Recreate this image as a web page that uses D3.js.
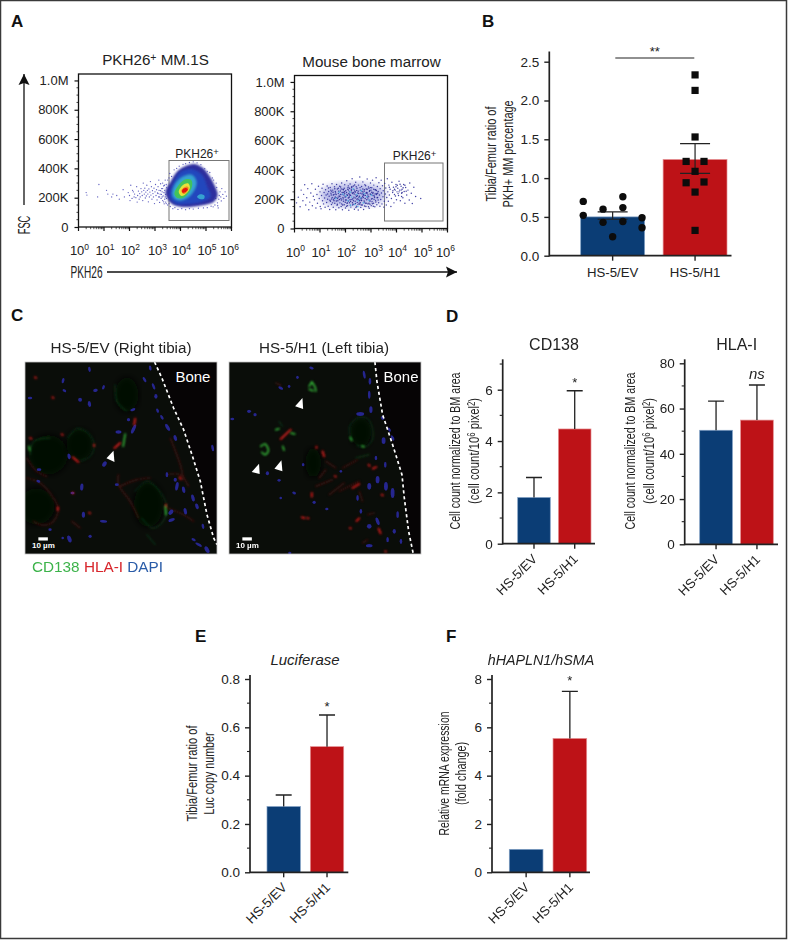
<!DOCTYPE html>
<html>
<head>
<meta charset="utf-8">
<script src="https://d3js.org/d3.v7.min.js"></script>
<style>
html, body { margin: 0; padding: 0; background: #fff; }
text { font-family: "Liberation Sans", Arial, sans-serif; fill: #222; }
.letter { font-size: 17px; font-weight: bold; fill: #111; }
</style>
</head>
<body>
<div id="chart"></div>
<script>
var groups = ["HS-5/EV", "HS-5/H1"];
var groupColors = ["#0b3d75", "#bd1217"];
var groupEdges = ["#7f9fc4", "#e58f92"];

// panel B
var ratioMeans = [0.5, 1.24];
var ratioErrLow = [0.47, 1.06];
var ratioErrHigh = [0.565, 1.445];
// [offset in half bar widths, value]
var ratioEV = [[-0.92,0.70],[-0.92,0.52],[-0.3,0.60],[-0.3,0.43],[0.32,0.76],[0.32,0.62],[0.32,0.44],[0,0.245],[0.92,0.49],[0.92,0.36]];
var ratioH1 = [[0,2.33],[0,2.13],[0,1.53],[-0.28,1.215],[0.28,1.215],[0,1.087],[-0.28,0.94],[0.28,0.95],[0,0.82],[0,0.326]];

// panels D, E, F
var cd138Means = [1.8, 4.47], cd138Tops = [2.58, 5.96];
var hlaMeans = [50.4, 54.9], hlaTops = [63.3, 70.4];
var lucMeans = [0.272, 0.52], lucTops = [0.32, 0.651];
var mrnaMeans = [0.95, 5.54], mrnaTops = [null, 7.49];

// panel A, density bands of the first plot: [log10 PKH26, FSC in K]
var bandOuter = [[3.41,241],[3.61,309],[3.87,378],[4.20,416],[4.52,430],[4.85,407],[5.11,355],[5.33,287],[5.46,218],[5.31,173],[4.92,150],[4.46,139],[4.0,139],[3.67,157],[3.48,196]];
var bandMid = [[3.58,218],[3.71,298],[4.03,378],[4.46,394],[4.85,355],[5.05,275],[5.18,207],[4.85,173],[4.26,157],[3.87,157],[3.63,184]];
var bandLight = [[3.67,230],[3.80,298],[4.13,348],[4.46,355],[4.63,309],[4.55,253],[4.26,196],[3.93,180],[3.74,196]];
var bandGreen = [[3.76,230],[3.93,287],[4.20,325],[4.42,321],[4.46,287],[4.33,234],[4.07,196],[3.84,202]];
var bandYellow = [[3.93,241],[4.10,287],[4.29,298],[4.37,271],[4.26,234],[4.04,212]];
var bandOrange = [[4.03,248],[4.20,275],[4.31,271],[4.29,248],[4.13,225]];
var bandRed = [[4.07,253],[4.20,266],[4.29,257],[4.20,239],[4.08,234]];
var bandSecond = [[4.65,207],[4.78,223],[4.94,214],[4.92,193],[4.76,191]];
var bandColors = ["#2f2f9e", "#2447bd", "#36a2d0", "#43c25c", "#e6e23a", "#f08a1e", "#e2120f"];

var mm1sDots = [[0.3,235],[0.33,218],[0.75,205],[0.8,290],[1.1,250],[1.15,225],[1.3,205],[1.35,225],[1.5,215],[1.6,190],
[1.75,255],[1.8,205],[1.95,235],[2.0,215],[2.02,180],[2.05,285],[2.1,195],[2.12,250],[2.15,240],[2.18,205],[2.2,225],[2.25,200],[2.28,275],[2.3,170],[2.32,215],
[2.35,245],[2.38,190],[2.4,228],[2.42,205],[2.45,262],[2.48,240],[2.5,215],[2.52,180],[2.54,300],[2.56,250],[2.58,225],[2.6,265],[2.62,198],[2.64,238],[2.66,212],
[2.68,285],[2.7,250],[2.72,225],[2.74,172],[2.76,260],[2.78,205],[2.8,238],[2.82,310],[2.84,218],[2.86,275],[2.88,190],[2.9,248],[2.92,228],[2.94,205],[2.96,265],
[2.98,160],[3.0,240],[3.02,290],[3.04,215],[3.06,255],[3.08,185],[3.1,232],[3.12,275],[3.14,205],[3.16,250],[3.18,168],[3.2,225],[3.22,295],[3.24,195],[3.26,262],
[3.28,240],[3.3,180],[3.32,212],[3.34,280],[3.36,158],[3.38,250],[3.4,320],[3.42,170],[3.44,290],[3.3,300],[3.15,320],[3.55,335],[3.5,150],[3.6,140],[3.7,125],
[3.9,120],[4.2,118],[4.5,122],[4.9,130],[5.2,142],[5.35,150],[5.45,165],[5.5,190],[5.55,240],[5.58,205],[5.6,178],[5.62,262],[5.66,222],[5.7,195],[5.75,240],
[5.4,300],[5.25,335],[5.05,380],[4.8,425],[4.5,445],[4.2,432],[3.85,400],[3.65,345],[5.48,130],[5.8,210],
[3.35,235],[3.28,205],[3.38,190],[3.3,262],[3.42,222],[3.22,248],[3.34,172],[3.46,268],[3.18,205],[3.25,222],[3.4,205],[3.12,228],[3.37,285],[3.44,160],[3.5,320],[3.58,365],
[3.75,390],[3.95,415],[4.1,428],[4.35,440],[4.65,438],[4.95,398],[5.15,372],[5.3,320],[5.42,270],[5.52,215],[5.46,145],[5.28,138],[5.05,132],[4.7,128],[4.35,125],[4.05,125],[3.78,132],[3.55,160],[3.45,195],[5.38,195]];

// panel A, second plot
var marrowHaze = [[1.05,255],[1.6,298],[2.4,312],[3.0,296],[3.5,268],[3.5,195],[3.0,165],[2.2,150],[1.5,158],[1.05,200]];
var marrowDots = [[0.08,175],[0.15,214],[0.22,148],[0.26,262],[0.33,190],[0.36,233],[0.4,298],[0.44,160],[0.48,210],[0.52,272],[0.56,128],[0.6,180],[0.64,242],[0.68,305],[0.7,155],[0.74,220],[0.78,196],[0.82,268],[0.84,140],[0.88,232],
[0.9,172],[0.94,288],[0.97,205],[1.0,250],[1.01,150],[1.04,135],[1.06,225],[1.08,275],[1.1,190],[1.12,302],[1.14,168],[1.16,245],[1.18,208],[1.2,145],[1.22,265],[1.24,228],[1.26,178],[1.28,290],[1.3,200],[1.32,152],
[1.34,252],[1.36,220],[1.38,130],[1.4,280],[1.41,186],[1.43,240],[1.45,164],[1.47,306],[1.48,212],[1.5,262],[1.52,145],[1.53,196],[1.55,232],[1.57,285],[1.58,172],[1.6,252],[1.62,128],[1.63,210],[1.65,300],[1.67,158],
[1.68,270],[1.7,190],[1.72,238],[1.74,142],[1.75,222],[1.77,288],[1.78,175],[1.8,256],[1.82,205],[1.83,150],[1.85,310],[1.87,232],[1.88,128],[1.9,268],[1.92,186],[1.93,246],[1.95,162],[1.97,298],[1.98,215],[2.0,140],
[2.01,258],[2.03,194],[2.05,326],[2.06,232],[2.08,156],[2.1,280],[2.11,208],[2.13,125],[2.15,250],[2.16,176],[2.18,304],[2.2,226],[2.21,146],[2.23,268],[2.25,198],[2.26,340],[2.28,238],[2.3,166],[2.31,290],[2.33,214],
[2.35,132],[2.36,256],[2.38,186],[2.4,316],[2.41,228],[2.43,152],[2.45,274],[2.46,204],[2.48,242],[2.5,126],[2.51,296],[2.53,172],[2.55,220],[2.56,352],[2.58,262],[2.6,144],[2.61,194],[2.63,286],[2.65,236],[2.66,160],
[2.68,318],[2.7,212],[2.71,130],[2.73,254],[2.75,180],[2.76,298],[2.78,226],[2.8,150],[2.81,270],[2.83,196],[2.85,338],[2.86,242],[2.88,168],[2.9,284],[2.91,216],[2.93,138],[2.95,260],[2.96,186],[2.98,310],[3.0,232],
[3.01,156],[3.03,278],[3.05,204],[3.06,330],[3.08,246],[3.1,172],[3.11,296],[3.13,222],[3.15,148],[3.16,264],[3.18,192],[3.2,346],[3.21,238],[3.23,162],[3.25,286],[3.26,212],[3.28,252],[3.3,176],[3.31,312],[3.33,228],
[3.35,152],[3.36,272],[3.38,198],[3.4,330],[3.41,242],[3.43,168],[3.45,292],[3.47,216],[3.48,258],[3.5,146],[3.52,186],[3.54,308],[3.56,236],[3.58,276],[3.6,160],[3.62,212],[3.64,340],[3.66,250],[3.68,186],[3.7,296],
[3.72,228],[3.75,268],[3.78,150],[3.8,205],[3.82,316],[3.85,245],[3.88,282],[3.9,175],[3.92,232],[3.95,262],[3.98,300],[4.0,196],[4.02,250],[4.05,275],[4.08,225],[4.1,322],[4.12,262],[4.15,190],[4.18,288],[4.2,240],
[4.22,268],[4.25,210],[4.28,300],[4.3,252],[4.33,172],[4.36,280],[4.4,228],[4.45,262],[4.5,195],[4.52,310],[4.58,240],[4.62,170],[4.68,282],[4.75,218],[4.95,205],
[1.3,235],[1.45,255],[1.55,190],[1.6,215],[1.72,275],[1.8,232],[1.85,168],[1.9,212],[1.95,275],[2.0,195],[2.04,245],[2.08,175],[2.12,262],[2.15,222],[2.2,185],[2.25,285],[2.28,160],[2.32,245],[2.38,208],[2.42,285],
[2.46,178],[2.5,255],[2.52,200],[2.56,165],[2.6,240],[2.64,208],[2.68,270],[2.72,225],[2.78,172],[2.82,245],[2.88,202],[2.92,275],[2.96,165],[3.0,262],[3.04,182],[3.08,225],[3.12,200],[3.18,265],[3.22,232],[3.28,195]];
var marrowExtra = [[2.17,233],[1.46,201],[2.73,187],[1.92,264],[2.39,171],[3.07,238],[1.61,243],[2.57,279],[2.04,152],[2.86,215],[1.33,276],[2.29,203],[3.19,181],[1.76,198],[2.62,161],[2.11,291],[1.52,229],[2.94,254],[2.41,143],[1.87,245],
[3.26,241],[2.23,258],[1.68,166],[2.79,292],[2.47,223],[1.99,179],[3.11,268],[1.39,193],[2.55,189],[2.14,211],[2.9,149],[1.81,283],[2.36,297],[3.02,201],[1.58,271],[2.69,243],[2.07,226],[1.71,214],[2.83,173],[2.27,176],
[1.94,228],[3.14,213],[2.44,260],[1.49,175],[2.67,220],[2.09,268],[2.97,236],[1.84,195],[2.34,235],[2.74,265],[1.64,187],[2.19,159],[3.05,169],[2.52,239],[1.96,251],[2.88,229],[1.42,262],[2.31,189],[2.6,207],[2.01,217],
[3.21,259],[1.73,255],[2.77,205],[2.13,237],[2.49,163],[1.89,161],[2.95,193],[2.24,282],[1.56,206],[2.65,252],[3.09,152],[2.39,249],[1.78,219],[2.85,268],[2.18,196],[1.44,228],[2.58,176],[2.98,279],[2.06,172],[2.71,232],
[1.91,202],[3.16,235],[2.33,267],[1.63,232],[2.81,241],[2.45,197],[2.12,187],[1.97,238],[2.53,213],[3.03,247],[1.51,248],[2.26,244],[2.75,154],[2.43,218],[1.83,270],[2.92,172],[2.16,275],[2.63,191],[1.69,204],[3.24,210],
[3.92,268],[4.06,238],[4.18,262],[3.98,285],[4.14,302],[4.26,278],[4.03,295],[4.22,245],[4.33,295],[3.86,258],[4.1,250],[4.38,255],[3.72,282],[3.96,222],[4.2,218]];
var marrowBright = [[1.75,248],[1.9,235],[2.02,222],[2.1,190],[2.18,248],[2.24,215],[2.3,270],[2.36,165],[2.44,232],[2.5,190],[2.58,210],[2.62,258],[2.7,175],[2.74,238],[2.84,218],[2.92,192],[3.02,228],[2.2,158],[2.48,150],[1.62,205]];

// panel C, image coordinates on a 600 unit grid
var evNuclei = [[208,34,3,7,-10],[129,68,3,7,15],[226,97,6,4,-10],[250,88,3,6,20],[180,125,5,5,0],[208,138,4,8,-10],[133,98,5,3,30],[30,120,6,3,0],[390,30,3,7,-10],[400,85,3,9,-20],[407,115,4,6,0],[373,65,3,8,-30],[412,158,3,6,-20],[425,178,3,7,-30],[442,208,4,11,-30],[465,240,4,8,-20],[340,213,4,14,25],[325,185,4,4,0],[295,222,8,4,0],[338,155,7,3,-20],[253,318,5,8,30],[147,295,4,8,-10],[57,335,6,3,0],[185,387,4,10,5],[157,405,5,3,0],[190,470,4,8,0],[250,490,10,3,5],[210,535,4,4,0],[148,543,5,10,-20],[55,370,5,3,20],[452,463,5,8,40],[454,486,9,4,-20],[495,460,4,9,-10],[470,385,4,12,10],[490,395,4,9,-10],[518,420,4,10,-15],[530,445,4,8,-20],[577,270,3,9,-10],[520,545,6,3,30],[535,560,10,3,30],[560,575,5,10,-30],[548,505,3,7,-10],[90,515,4,3,0],[128,540,3,3,0],[290,380,5,3,0],[440,350,3,7,0],[465,365,4,5,0]];
var evHoles = [[85,290,60,60],[178,260,40,48],[385,440,45,68],[320,110,36,52],[50,445,55,55]];
var evDimRed = [[[20,360],[60,375],[100,420],[115,455],[95,495],[60,500],[40,490]],[[295,350],[295,380],[330,430],[355,480]],[[300,385],[350,365],[390,360]],[[440,350],[480,350],[505,385]],[[450,240],[480,320],[490,365]],[[20,300],[50,340],[80,355]],[[440,450],[490,470],[520,490]],[[155,490],[180,510]]];
var evBrightRed = [[[283,270],[300,255]],[[345,182],[342,200]],[[158,298],[175,312]],[[207,464],[210,466]],[[478,358],[482,364]],[[113,448],[113,456]],[[222,260],[222,264]],[[125,229],[128,231]],[[97,118],[100,120]],[[157,404],[160,406]],[[437,440],[437,446]],[[45,58],[48,60]],[[30,240],[34,242]]];
var evDimGreen = [[[142,240],[170,212],[205,225],[222,262],[210,295],[180,310]],[[345,400],[380,370],[415,395],[440,450],[425,495],[395,510],[365,480]],[[285,80],[290,130],[320,160]],[[30,290],[40,250],[90,240]],[[380,530],[405,560]]];
var evBrightGreen = [[[315,228],[309,265]],[[435,445],[437,470]],[[27,265],[29,277]]];
var evBone = [[403,12],[425,60],[460,150],[490,215],[515,290],[540,370],[560,470],[580,540],[590,560]];
var evArrows = [[[280,278],[259,301],[283,312]]];

var h1Nuclei = [[257,30,6,3,20],[215,58,3,4,0],[165,90,7,3,30],[190,85,3,4,0],[70,160,5,4,0],[88,170,4,4,0],[20,183,5,3,0],[403,168,11,5,0],[415,50,3,11,-10],[432,70,3,9,0],[430,110,3,11,0],[435,155,4,9,0],[470,180,4,5,-30],[490,215,3,6,-30],[500,240,3,8,-30],[473,248,5,9,0],[450,300,3,6,0],[455,365,5,10,0],[478,320,3,8,0],[480,385,5,12,0],[500,405,5,14,0],[430,385,5,9,0],[430,505,6,6,0],[455,490,4,11,-20],[395,420,3,8,0],[405,460,3,6,0],[515,470,3,9,0],[525,550,3,7,0],[485,545,3,7,0],[505,520,4,6,0],[430,563,9,4,0],[125,346,4,5,0],[160,367,4,3,0],[232,320,3,4,0],[205,405,5,3,20],[265,433,4,4,0],[303,453,4,3,0],[165,420,3,3,0],[192,585,4,3,0],[345,340,3,3,0]];
var h1Holes = [[405,223,32,44],[262,315,25,45]];
var h1DimRed = [[[340,400],[400,370]],[[310,410],[355,375]],[[280,360],[300,335]],[[270,385],[320,365]],[[300,310],[330,330]],[[410,555],[425,545]],[[400,400],[410,430]],[[425,470],[445,465]],[[350,330],[395,305]],[[150,75],[165,82]]];
var h1BrightRed = [[[165,243],[195,215]],[[272,266],[272,270]],[[290,280],[295,295]],[[441,332],[451,327]],[[380,390],[400,378]],[[327,354],[330,356]],[[428,320],[431,324]],[[258,405],[258,416]],[[392,489],[400,481]],[[458,512],[464,526]],[[467,410],[471,412]],[[372,510],[375,511]],[[228,478],[236,480]],[[245,480],[248,481]],[[478,580],[480,581]]];
var h1DimGreen = [[[375,243],[372,205],[395,180],[425,182],[440,215],[437,250],[415,267],[392,262]],[[160,190],[170,205]],[[390,300],[430,290]]];
var h1BrightGreen = [[[250,85],[258,72]],[[258,72],[268,88],[270,100]],[[262,98],[250,94]],[[105,265],[118,258],[128,278],[118,290],[108,283]],[[171,265],[175,277]],[[195,225],[207,228]],[[373,238],[378,248]],[[408,264],[414,266]],[[160,212],[150,215]]];
var h1Bone = [[447,12],[453,70],[470,170],[500,260],[528,350],[535,420],[548,520],[562,588]];
var h1Arrows = [[[230,120],[208,145],[232,153]],[[100,317],[78,342],[102,348]],[[167,307],[146,332],[170,340]]];

var svg = d3.select("#chart").append("svg")
    .attr("width", 789)
    .attr("height", 940)
    .style("display", "block");

var defs = svg.append("defs");
defs.append("filter").attr("id", "soft").append("feGaussianBlur").attr("stdDeviation", 0.5);
defs.append("filter").attr("id", "softer").append("feGaussianBlur").attr("stdDeviation", 0.8);
defs.append("filter").attr("id", "haze").append("feGaussianBlur").attr("stdDeviation", 3);

// figure frame
svg.append("path")
    .attr("d", "M0.5,0.5H786.5V938.5H0.5Z")
    .attr("fill", "none")
    .attr("stroke", "#3a3a3a")
    .attr("stroke-width", 1.5);

function letter(t, x, y) {
    svg.append("text").attr("class", "letter").attr("x", x).attr("y", y).text(t);
}
letter("A", 11, 27);
letter("B", 482, 27);
letter("C", 11, 321);
letter("D", 446, 322);
letter("E", 195, 642);
letter("F", 446, 642);

/* ---------- A ---------- */
function flowPlot(left, top, title, titleBaseline, gate, gateLabelX, gateLabelY) {
    var w = 153, h = 153;
    var x = d3.scaleLog().domain([1, 1e6]).range([left, left + w]);
    var y = d3.scaleLinear().domain([0, 1044]).range([top + h, top]);
    var g = svg.append("g");

    g.append("rect").attr("x", left).attr("y", top).attr("width", w).attr("height", h)
        .attr("fill", "#fff").attr("stroke", "#111").attr("stroke-width", 1.3);

    var yAxis = d3.axisLeft(y).tickValues([0, 200, 400, 600, 800, 1000]).tickSize(4)
        .tickFormat(function(d) { return d == 0 ? "0" : d == 1000 ? "1.0M" : d + "K"; });
    var ya = g.append("g").attr("transform", "translate(" + left + ",0)").call(yAxis);
    ya.select(".domain").remove();
    ya.selectAll("text").attr("x", -10).style("font-size", "13px").style("fill", "#222");
    ya.selectAll("line").attr("stroke", "#111").attr("stroke-width", 1.2);
    g.append("g").selectAll("line").data(d3.range(50, 1001, 50).filter(function(d) { return d % 200; }))
        .enter().append("line")
        .attr("x1", left - 2).attr("x2", left)
        .attr("y1", function(d) { return y(d); }).attr("y2", function(d) { return y(d); })
        .attr("stroke", "#111").attr("stroke-width", 0.8);

    var minors = [];
    d3.range(0, 6).forEach(function(p) {
        d3.range(2, 10).forEach(function(m) { minors.push(m * Math.pow(10, p)); });
    });
    g.append("g").selectAll("line").data(minors).enter().append("line")
        .attr("x1", function(d) { return x(d); }).attr("x2", function(d) { return x(d); })
        .attr("y1", top + h).attr("y2", top + h + 2.2)
        .attr("stroke", "#111").attr("stroke-width", 0.7);
    var decades = d3.range(0, 7);
    g.append("g").selectAll("line").data(decades).enter().append("line")
        .attr("x1", function(d) { return x(Math.pow(10, d)); }).attr("x2", function(d) { return x(Math.pow(10, d)); })
        .attr("y1", top + h).attr("y2", top + h + 4)
        .attr("stroke", "#111").attr("stroke-width", 1.2);
    var xl = g.append("g").selectAll("text").data(decades).enter().append("text")
        .attr("x", function(d) { return x(Math.pow(10, d)) + (d == 0 ? 1 : d == 3 ? 2.5 : d == 6 ? -2 : 1); })
        .attr("y", top + h + 28)
        .attr("text-anchor", "middle")
        .style("font-size", "13px");
    xl.append("tspan").text("10");
    xl.append("tspan").attr("dy", -5.5).style("font-size", "8.5px").text(function(d) { return d; });

    var t = g.append("text").attr("x", left + w / 2 + 0.5).attr("y", titleBaseline)
        .attr("text-anchor", "middle").style("font-size", "15.2px");
    title(t);

    g.append("rect")
        .attr("x", gate[0]).attr("y", gate[1]).attr("width", gate[2]).attr("height", gate[3])
        .attr("fill", "none").attr("stroke", "#777").attr("stroke-width", 1);
    var gl = g.append("text").attr("x", gateLabelX).attr("y", gateLabelY).attr("text-anchor", "middle")
        .style("font-size", "12px");
    gl.append("tspan").text("PKH26");
    gl.append("tspan").attr("dy", -3).style("font-size", "9.5px").text("+");

    return {
        g: g,
        px: function(e) { return x(Math.pow(10, e)); },
        py: y
    };
}

function dots(p, data, color, r, op) {
    p.g.append("g").selectAll("circle").data(data).enter().append("circle")
        .attr("cx", function(d) { return p.px(d[0]); })
        .attr("cy", function(d) { return p.py(d[1]); })
        .attr("r", r)
        .attr("fill", color)
        .attr("opacity", op);
}

function band(p, data, color, filter, op) {
    var line = d3.line()
        .x(function(d) { return p.px(d[0]); })
        .y(function(d) { return p.py(d[1]); })
        .curve(d3.curveCatmullRomClosed);
    p.g.append("path").attr("d", line(data)).attr("fill", color).attr("opacity", op || 1).attr("filter", "url(#" + filter + ")");
}

var plotA = flowPlot(78.5, 74, function(t) {
    t.append("tspan").text("PKH26");
    t.append("tspan").attr("dy", -4).style("font-size", "10.5px").text("+");
    t.append("tspan").attr("dy", 4).text(" MM.1S");
}, 65, [169, 160.5, 60, 60], 197, 158);

dots(plotA, mm1sDots, "#3f3fb4", 0.65, 0.85);
[bandOuter, bandMid, bandLight, bandGreen, bandYellow, bandOrange, bandRed].forEach(function(b, i) {
    if (i == 2) band(plotA, bandSecond, "#36a2d0", "soft");
    band(plotA, b, bandColors[i], i < 3 ? "softer" : "soft");
});

var plotB = flowPlot(294.5, 75.5, function(t) {
    t.text("Mouse bone marrow");
}, 66.5, [384.5, 163, 58.5, 58], 414.5, 160);

band(plotB, marrowHaze, "#7c80d4", "haze", 0.55);
dots(plotB, marrowDots, "#2f2f9c", 0.72, 0.9);
dots(plotB, marrowExtra, "#26268f", 0.72, 0.9);
dots(plotB, marrowBright, "#54b4e4", 0.85, 0.95);

// FSC / PKH26 arrows
function arrow(x1, y1, x2, y2) {
    svg.append("line").attr("x1", x1).attr("y1", y1).attr("x2", x2).attr("y2", y2)
        .attr("stroke", "#111").attr("stroke-width", 1.3);
    var a = Math.atan2(y2 - y1, x2 - x1) * 180 / Math.PI;
    svg.append("path").attr("d", "M0,0L-11,-5.5L-9,0L-11,5.5Z").attr("fill", "#111")
        .attr("transform", "translate(" + x2 + "," + y2 + ") rotate(" + a + ")");
}
arrow(24, 205, 24, 74);
arrow(107, 272, 457, 272);
svg.append("text").attr("text-anchor", "middle")
    .attr("transform", "translate(29.5,225) rotate(-90)")
    .attr("textLength", 18.5).attr("lengthAdjust", "spacingAndGlyphs")
    .style("font-size", "16px").text("FSC");
svg.append("text").attr("x", 70.5).attr("y", 277.5)
    .attr("textLength", 32).attr("lengthAdjust", "spacingAndGlyphs")
    .style("font-size", "16px").text("PKH26");

/* ---------- B and bars ---------- */
function barPanel(o) {
    var y = d3.scaleLinear().domain(o.domain).range(o.yRange);
    var x = d3.scaleBand().domain(groups)
        .range(o.xRange).paddingInner(o.inner).paddingOuter(0);
    var g = svg.append("g");

    g.selectAll(".bar").data(groups).enter().append("rect")
        .attr("x", function(d) { return x(d); })
        .attr("y", function(d, i) { return y(o.means[i]); })
        .attr("width", x.bandwidth())
        .attr("height", function(d, i) { return y(0) - y(o.means[i]); })
        .attr("fill", function(d, i) { return groupColors[i]; })
        .attr("stroke", function(d, i) { return groupEdges[i]; })
        .attr("stroke-width", 0.7);

    if (o.tops) {
        groups.forEach(function(d, i) {
            if (o.tops[i] == null) return;
            var cx = x(d) + x.bandwidth() / 2;
            g.append("path")
                .attr("d", "M" + cx + "," + y(o.means[i]) + "V" + y(o.tops[i]) + "M" + (cx - 8) + "," + y(o.tops[i]) + "H" + (cx + 8))
                .attr("fill", "none").attr("stroke", "#222").attr("stroke-width", 1.3);
        });
    }

    var ya = g.append("g").attr("transform", "translate(" + o.axisX + ",0)")
        .call(d3.axisLeft(y).tickValues(o.ticks).tickSize(5).tickSizeOuter(0).tickFormat(o.format));
    ya.select(".domain").remove();
    ya.selectAll("line").attr("stroke", "#222").attr("stroke-width", 1.4);
    ya.selectAll("text").attr("x", -10).style("font-size", "13.5px").style("fill", "#222");
    g.append("g").selectAll("line").data(o.minor || []).enter().append("line")
        .attr("x1", o.axisX - 3).attr("x2", o.axisX)
        .attr("y1", function(d) { return y(d); }).attr("y2", function(d) { return y(d); })
        .attr("stroke", "#222").attr("stroke-width", 1.1);
    g.append("line").attr("x1", o.axisX).attr("x2", o.axisX)
        .attr("y1", o.axisTop).attr("y2", y(0) + 0.8)
        .attr("stroke", "#222").attr("stroke-width", 1.7);
    g.append("line").attr("x1", o.axisX).attr("x2", o.axisEnd)
        .attr("y1", y(0)).attr("y2", y(0))
        .attr("stroke", "#222").attr("stroke-width", 1.7);

    groups.forEach(function(d) {
        var cx = x(d) + x.bandwidth() / 2;
        g.append("line").attr("x1", cx).attr("x2", cx)
            .attr("y1", y(0)).attr("y2", y(0) + 5)
            .attr("stroke", "#222").attr("stroke-width", 1.4);
        if (o.flatLabels) {
            g.append("text").attr("x", cx).attr("y", y(0) + 21)
                .attr("text-anchor", "middle").style("font-size", "13.2px").text(d);
        } else {
            g.append("text")
                .attr("transform", "translate(" + (cx + 4) + "," + (y(0) + 16) + ") rotate(-45)")
                .attr("text-anchor", "end").style("font-size", "13.2px").text(d);
        }
    });

    if (o.title) {
        g.append("text").attr("x", o.title.x).attr("y", o.title.y)
            .attr("text-anchor", "middle")
            .style("font-size", o.title.size + "px")
            .style("font-style", o.title.italic ? "italic" : "normal")
            .text(o.title.text);
    }
    (o.notes || []).forEach(function(n) {
        g.append("text").attr("x", x(groups[1]) + x.bandwidth() / 2 + (n.dx || 0)).attr("y", y(n.v))
            .attr("text-anchor", "middle")
            .style("font-size", n.size + "px")
            .style("font-style", n.italic ? "italic" : "normal")
            .text(n.text);
    });
    return {x: x, y: y, g: g};
}

var pb = barPanel({
    domain: [0, 2.5], yRange: [255.7, 61.7], xRange: [580.7, 727], inner: 0.225,
    means: ratioMeans, ticks: [0, 0.5, 1, 1.5, 2, 2.5], format: d3.format(".1f"),
    axisX: 549.3, axisTop: 51.5, axisEnd: 731.5, flatLabels: true
});

groups.forEach(function(d, i) {
    var cx = pb.x(d) + pb.x.bandwidth() / 2;
    pb.g.append("path")
        .attr("d", "M" + cx + "," + pb.y(ratioErrLow[i]) + "V" + pb.y(ratioErrHigh[i])
            + "M" + (cx - 15) + "," + pb.y(ratioErrLow[i]) + "H" + (cx + 15)
            + "M" + (cx - 15) + "," + pb.y(ratioErrHigh[i]) + "H" + (cx + 15))
        .attr("fill", "none").attr("stroke", "#222").attr("stroke-width", 1.2);
});
var half = pb.x.bandwidth() / 2;
pb.g.selectAll(".ev").data(ratioEV).enter().append("circle")
    .attr("cx", function(d) { return pb.x(groups[0]) + half + d[0] * half; })
    .attr("cy", function(d) { return pb.y(d[1]); })
    .attr("r", 3.7).attr("fill", "#0c0c0c");
pb.g.selectAll(".h1").data(ratioH1).enter().append("rect")
    .attr("x", function(d) { return pb.x(groups[1]) + half + d[0] * half - 3.6; })
    .attr("y", function(d) { return pb.y(d[1]) - 3.6; })
    .attr("width", 7.2).attr("height", 7.2).attr("fill", "#0c0c0c");
svg.append("line").attr("x1", 615.3).attr("x2", 694.3).attr("y1", 58).attr("y2", 58)
    .attr("stroke", "#222").attr("stroke-width", 1.1);
svg.append("text").attr("x", 654.7).attr("y", 56).attr("text-anchor", "middle")
    .style("font-size", "13px").text("**");

// y titles are set in a condensed face in the original, squeezed here with textLength
function yLabel(x1, x2, cy, line1, len1, line2, len2) {
    svg.append("text").attr("text-anchor", "middle")
        .attr("transform", "translate(" + x1 + "," + cy + ") rotate(-90)")
        .attr("textLength", len1).attr("lengthAdjust", "spacingAndGlyphs")
        .style("font-size", "15.5px").text(line1);
    var t = svg.append("text").attr("text-anchor", "middle")
        .attr("transform", "translate(" + x2 + "," + cy + ") rotate(-90)")
        .attr("textLength", len2).attr("lengthAdjust", "spacingAndGlyphs")
        .style("font-size", "15.5px");
    if (typeof line2 == "string") t.text(line2); else line2(t);
}
function cellLine(t) {
    t.append("tspan").text("(cell count/10");
    t.append("tspan").attr("dy", -4).style("font-size", "10.5px").text("6");
    t.append("tspan").attr("dy", 4).text(" pixel");
    t.append("tspan").attr("dy", -4).style("font-size", "10.5px").text("2");
    t.append("tspan").attr("dy", 4).text(")");
}
yLabel(496, 513, 154, "Tibia/Femur ratio of", 95, "PKH+ MM percentage", 107);

/* ---------- C ---------- */
var clipCount = 0;
function micrograph(left, top, nuclei, holes, dimRed, brightRed, dimGreen, brightGreen, bone, arrows, boneX) {
    var sx = d3.scaleLinear().domain([0, 575]).range([left, left + 192]);
    var sy = d3.scaleLinear().domain([12, 588]).range([top, top + 192]);
    var clipId = "img" + (clipCount++);
    defs.append("clipPath").attr("id", clipId).append("rect")
        .attr("x", left).attr("y", top).attr("width", 192).attr("height", 192);
    var g = svg.append("g").attr("clip-path", "url(#" + clipId + ")");
    var line = d3.line().x(function(d) { return sx(d[0]); }).y(function(d) { return sy(d[1]); });
    var curved = d3.line().x(function(d) { return sx(d[0]); }).y(function(d) { return sy(d[1]); }).curve(d3.curveCatmullRom);

    g.append("rect").attr("x", left).attr("y", top).attr("width", 192).attr("height", 192)
        .attr("fill", "#0a0d09");
    var boneArea = bone.concat([[575, 588], [575, 12]]);
    g.append("path").attr("d", line(boneArea) + "Z").attr("fill", "#060405");

    g.append("g").selectAll("ellipse").data(holes).enter().append("ellipse")
        .attr("cx", function(d) { return sx(d[0]); })
        .attr("cy", function(d) { return sy(d[1]); })
        .attr("rx", function(d) { return d[2] / 3; })
        .attr("ry", function(d) { return d[3] / 3; })
        .attr("fill", "#060706").attr("filter", "url(#haze)");

    function strokes(data, color, width, op) {
        g.append("g").attr("filter", "url(#softer)").selectAll("path").data(data).enter().append("path")
            .attr("d", function(d) { return curved(d); })
            .attr("fill", "none").attr("stroke", color).attr("stroke-width", width)
            .attr("stroke-linecap", "round").attr("opacity", op);
    }
    strokes(dimGreen, "#1d5f2a", 0.9, 0.75);
    strokes(dimRed, "#651a1a", 1.2, 0.7);
    g.append("g").attr("filter", "url(#soft)").selectAll("ellipse").data(nuclei).enter().append("ellipse")
        .attr("transform", function(d) { return "translate(" + sx(d[0]) + "," + sy(d[1]) + ") rotate(" + d[4] + ")"; })
        .attr("rx", function(d) { return d[2] / 3 + 0.3; })
        .attr("ry", function(d) { return d[3] / 3 + 0.3; })
        .attr("fill", "#25258e");
    strokes(brightRed, "#dc1e1e", 1.9, 0.95);
    strokes(brightGreen, "#38c43c", 1.5, 1);

    g.append("path").attr("d", line(bone)).attr("fill", "none").attr("stroke", "#fff")
        .attr("stroke-width", 1.7).attr("stroke-dasharray", "3.2 2.8");
    arrows.forEach(function(a) {
        g.append("path").attr("d", line(a) + "Z").attr("fill", "#fff");
    });
    g.append("text").attr("x", sx(boneX)).attr("y", sy(72)).attr("text-anchor", "middle")
        .style("font-size", "15px").style("fill", "#fff").text("Bone");
    g.append("rect").attr("x", sx(40)).attr("y", sy(538)).attr("width", 9.5).attr("height", 3.2).attr("fill", "#fff");
    g.append("text").attr("x", sx(55)).attr("y", sy(571)).attr("text-anchor", "middle")
        .style("font-size", "8px").style("font-weight", "bold").style("fill", "#fff").text("10 µm");
    svg.append("rect").attr("x", left).attr("y", top).attr("width", 192).attr("height", 192)
        .attr("fill", "none").attr("stroke", "#c4c4c4").attr("stroke-width", 0.8);
}
// x grid starts at the left edge of each image
function shift(rows, dx) {
    return rows.map(function(r) { var c = r.slice(); c[0] = r[0] + dx; return c; });
}
function shiftPaths(paths, dx) {
    return paths.map(function(p) { return shift(p, dx); });
}
micrograph(25, 362, shift(evNuclei, -15), shift(evHoles, -15), shiftPaths(evDimRed, -15), shiftPaths(evBrightRed, -15),
    shiftPaths(evDimGreen, -15), shiftPaths(evBrightGreen, -15), shift(evBone, -15), shiftPaths(evArrows, -15), 503);
micrograph(229, 362, shift(h1Nuclei, -10), shift(h1Holes, -10), shiftPaths(h1DimRed, -10), shiftPaths(h1BrightRed, -10),
    shiftPaths(h1DimGreen, -10), shiftPaths(h1BrightGreen, -10), shift(h1Bone, -10), shiftPaths(h1Arrows, -10), 515);

svg.append("text").attr("x", 121).attr("y", 353).attr("text-anchor", "middle").style("font-size", "15.2px").text("HS-5/EV (Right tibia)");
svg.append("text").attr("x", 324).attr("y", 353).attr("text-anchor", "middle").style("font-size", "15.2px").text("HS-5/H1 (Left tibia)");
var legendC = svg.append("text").attr("x", 32).attr("y", 571.5).style("font-size", "15.3px");
legendC.append("tspan").style("fill", "#3cb34a").text("CD138 ");
legendC.append("tspan").style("fill", "#d8262c").text("HLA-I ");
legendC.append("tspan").style("fill", "#2a5ca8").text("DAPI");

/* ---------- D ---------- */
barPanel({
    domain: [0, 6], yRange: [543.7, 389.7], xRange: [517.7, 591], inner: 0.2,
    means: cd138Means, tops: cd138Tops, ticks: [0, 2, 4, 6], minor: [1, 3, 5, 7], format: d3.format("d"),
    axisX: 502.7, axisTop: 359.3, axisEnd: 595,
    title: {x: 554, y: 350, size: 16, text: "CD138"},
    notes: [{v: 6.1, text: "*", size: 13}]
});
barPanel({
    domain: [0, 80], yRange: [544.3, 363.3], xRange: [699.7, 773.3], inner: 0.2,
    means: hlaMeans, tops: hlaTops, ticks: [0, 20, 40, 60, 80], minor: [10, 30, 50, 70], format: d3.format("d"),
    axisX: 684.7, axisTop: 359.3, axisEnd: 778,
    title: {x: 736.7, y: 350, size: 16, text: "HLA-I"},
    notes: [{v: 73, text: "ns", size: 15, italic: true}]
});
yLabel(460, 479, 451, "Cell count normalized to BM area", 157, cellLine, 106);
yLabel(634.5, 654, 451, "Cell count normalized to BM area", 157, cellLine, 106);

/* ---------- E, F ---------- */
barPanel({
    domain: [0, 0.8], yRange: [872.3, 679], xRange: [267, 343.7], inner: 0.23,
    means: lucMeans, tops: lucTops, ticks: [0, 0.2, 0.4, 0.6, 0.8], minor: [0.1, 0.3, 0.5, 0.7], format: d3.format(".1f"),
    axisX: 250, axisTop: 675, axisEnd: 348.3,
    title: {x: 305, y: 665, size: 15, italic: true, text: "Luciferase"},
    notes: [{v: 0.668, text: "*", size: 13}]
});
barPanel({
    domain: [0, 8], yRange: [872.3, 679], xRange: [509.3, 586.7], inner: 0.23,
    means: mrnaMeans, tops: mrnaTops, ticks: [0, 2, 4, 6, 8], minor: [1, 3, 5, 7], format: d3.format("d"),
    axisX: 492, axisTop: 675, axisEnd: 590,
    title: {x: 541, y: 665, size: 14.3, italic: true, text: "hHAPLN1/hSMA"},
    notes: [{v: 7.75, text: "*", size: 13}]
});
yLabel(196.7, 214.3, 773.5, "Tibia/Femur ratio of", 96, "Luc copy number", 82);
yLabel(449, 466, 773.5, "Relative mRNA expression", 124, "(fold change)", 63);
</script>
</body>
</html>
